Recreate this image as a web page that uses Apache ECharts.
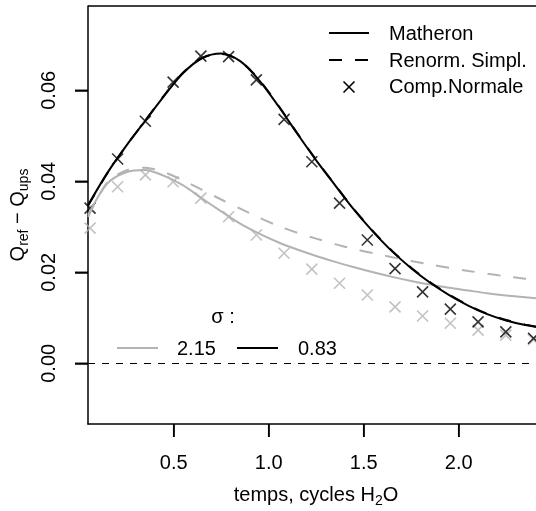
<!DOCTYPE html>
<html>
<head>
<meta charset="utf-8">
<script src="https://cdn.jsdelivr.net/npm/echarts@6/dist/echarts.min.js"></script>
<style>
  html, body { margin: 0; padding: 0; background: #fff; }
  #chart { width: 536px; height: 511px; }
</style>
</head>
<body>
<div id="chart"></div>
<script>
// abscissa for the curves (temps, cycles H2O)
const lineX = [0.05, 0.15, 0.25, 0.35, 0.45, 0.55, 0.65, 0.75, 0.85, 0.95, 1.05, 1.15, 1.25,
               1.35, 1.45, 1.55, 1.65, 1.75, 1.85, 1.95, 2.05, 2.15, 2.25, 2.35, 2.45];

// sigma = 0.83 (black)
const matheron083 = [0.0348, 0.0418, 0.0478, 0.0533, 0.0588, 0.0638, 0.0671, 0.0681, 0.0664, 0.0622,
                     0.0566, 0.0505, 0.0446, 0.0391, 0.0337, 0.0289, 0.0246, 0.0209, 0.0177, 0.0150,
                     0.0127, 0.0108, 0.0094, 0.0084, 0.0077];
const renorm083 = [0.0347, 0.0417, 0.0478, 0.0533, 0.0589, 0.0639, 0.0671, 0.0680, 0.0664, 0.0623,
                   0.0567, 0.0506, 0.0447, 0.0392, 0.0338, 0.0290, 0.0247, 0.0210, 0.0178, 0.0151,
                   0.0128, 0.0109, 0.0095, 0.0085, 0.0078];

// sigma = 2.15 (grey)
const matheron215 = [0.0326, 0.0395, 0.0420, 0.0425, 0.0412, 0.0391, 0.0362, 0.0334, 0.0307, 0.0285,
                     0.0266, 0.0250, 0.0236, 0.0223, 0.0211, 0.0200, 0.0190, 0.0181, 0.0173, 0.0166,
                     0.0160, 0.0154, 0.0149, 0.0145, 0.0141];
const renorm215 = [0.0322, 0.0397, 0.0424, 0.0430, 0.0420, 0.0402, 0.0381, 0.0360, 0.0340, 0.0320,
                   0.0302, 0.0287, 0.0274, 0.0262, 0.0251, 0.0242, 0.0233, 0.0225, 0.0217, 0.0210,
                   0.0203, 0.0197, 0.0191, 0.0186, 0.0182];

// Comp.Normale points
const crossX = [0.060, 0.205, 0.351, 0.497, 0.643, 0.789, 0.935, 1.081, 1.227, 1.373, 1.519,
                1.665, 1.810, 1.956, 2.102, 2.248, 2.394];
const normale083 = [0.0341, 0.0449, 0.0532, 0.0618, 0.0675, 0.0674, 0.0623, 0.0536, 0.0443, 0.0352,
                    0.0271, 0.0208, 0.0157, 0.0119, 0.0091, 0.0069, 0.0055];
const normale215 = [0.0297, 0.0388, 0.0414, 0.0399, 0.0363, 0.0322, 0.0282, 0.0242, 0.0207, 0.0176,
                    0.0150, 0.0124, 0.0104, 0.0088, 0.0073, 0.0062, 0.0052];

const xTicks = [0.5, 1.0, 1.5, 2.0];
const yTicks = [0.00, 0.02, 0.04, 0.06];

const X_MIN = 0.049, X_MAX = 2.449;
const Y_MIN = -0.01334, Y_MAX = 0.07853;

const GREY = '#b3b3b3';
const FONT = 'Liberation Sans, Arial, sans-serif';
const CROSS = 'path://M0,0L10,10M10,0L0,10';
const TICK_LEN = 13;

function pairs(xs, ys) {
    return xs.map(function (x, i) { return [x, ys[i]]; });
}

function curve(data, color, type) {
    return {
        type: 'line', data: data, smooth: 0.3, showSymbol: false, symbol: 'none',
        lineStyle: { color: color, width: 2, type: type }, silent: true
    };
}

function crosses(data, color) {
    return {
        type: 'scatter', data: data, symbol: CROSS, symbolSize: 11,
        itemStyle: { color: 'transparent', borderColor: color, borderWidth: 1.6 }, silent: true
    };
}

let chart = echarts.init(document.getElementById('chart'));

let legendGraphic = [
    // method legend
    { type: 'line', shape: { x1: 329, y1: 33, x2: 369, y2: 33 }, style: { stroke: '#000', lineWidth: 2 } },
    { type: 'line', shape: { x1: 329, y1: 60, x2: 342, y2: 60 }, style: { stroke: '#000', lineWidth: 2 } },
    { type: 'line', shape: { x1: 355, y1: 60, x2: 368, y2: 60 }, style: { stroke: '#000', lineWidth: 2 } },
    { type: 'line', shape: { x1: 343.5, y1: 81.5, x2: 354.5, y2: 92.5 }, style: { stroke: '#000', lineWidth: 1.6 } },
    { type: 'line', shape: { x1: 354.5, y1: 81.5, x2: 343.5, y2: 92.5 }, style: { stroke: '#000', lineWidth: 1.6 } },
    { type: 'text', style: { text: 'Matheron', x: 389, y: 34, font: '20px ' + FONT, fill: '#000', textVerticalAlign: 'middle' } },
    { type: 'text', style: { text: 'Renorm. Simpl.', x: 389, y: 61, font: '20px ' + FONT, fill: '#000', textVerticalAlign: 'middle' } },
    { type: 'text', style: { text: 'Comp.Normale', x: 389, y: 87, font: '20px ' + FONT, fill: '#000', textVerticalAlign: 'middle' } },
    // sigma legend
    { type: 'text', style: { text: '\u03c3 :', x: 223, y: 317, font: '20px ' + FONT, fill: '#000', textAlign: 'center', textVerticalAlign: 'middle' } },
    { type: 'line', shape: { x1: 117, y1: 348, x2: 158, y2: 348 }, style: { stroke: GREY, lineWidth: 2 } },
    { type: 'text', style: { text: '2.15', x: 177, y: 349, font: '20px ' + FONT, fill: '#000', textVerticalAlign: 'middle' } },
    { type: 'line', shape: { x1: 237, y1: 348, x2: 278, y2: 348 }, style: { stroke: '#000', lineWidth: 2 } },
    { type: 'text', style: { text: '0.83', x: 298, y: 349, font: '20px ' + FONT, fill: '#000', textVerticalAlign: 'middle' } }
];

let option = {
    animation: false,
    grid: { left: 88, top: 6, right: -8, bottom: 87, outerBoundsMode: 'none' },
    xAxis: {
        type: 'value', min: X_MIN, max: X_MAX,
        splitLine: { show: false },
        axisLine: { show: true, onZero: false, lineStyle: { color: '#000', width: 1.5 } },
        axisTick: { show: true, customValues: xTicks, length: TICK_LEN, lineStyle: { color: '#000', width: 1.5 } },
        axisLabel: {
            customValues: xTicks, margin: 29, color: '#000', fontSize: 20, fontFamily: FONT,
            formatter: function (v) { return v.toFixed(1); }
        },
        name: 'temps, cycles H{s|2}O', nameLocation: 'middle', nameGap: 58,
        nameTextStyle: {
            color: '#000', fontSize: 20, fontFamily: FONT, lineHeight: 26,
            rich: {
                s: { fontSize: 14, fontFamily: FONT, color: '#000', lineHeight: 16, verticalAlign: 'bottom' }
            }
        }
    },
    yAxis: {
        type: 'value', min: Y_MIN, max: Y_MAX,
        splitLine: { show: false },
        axisLine: { show: true, onZero: false, lineStyle: { color: '#000', width: 1.5 } },
        axisTick: { show: true, customValues: yTicks, length: TICK_LEN, lineStyle: { color: '#000', width: 1.5 } },
        axisLabel: {
            customValues: yTicks, rotate: 90, margin: 29, color: '#000', fontSize: 20, fontFamily: FONT,
            formatter: function (v) { return v.toFixed(2); }
        },
        name: 'Q{s|ref} \u2212 Q{s|ups}', nameLocation: 'middle', nameRotate: 90, nameGap: 50,
        nameTextStyle: {
            color: '#000', fontSize: 20, fontFamily: FONT, lineHeight: 26,
            rich: {
                s: { fontSize: 14, fontFamily: FONT, color: '#000', lineHeight: 16, verticalAlign: 'bottom' }
            }
        }
    },
    series: [
        curve(pairs(lineX, matheron215), GREY, 'solid'),
        curve(pairs(lineX, renorm215), GREY, [13, 13]),
        crosses(pairs(crossX, normale215), GREY),
        Object.assign(curve(pairs(lineX, renorm083), '#000', [13, 13]), {
            markLine: {
                silent: true, symbol: 'none', label: { show: false },
                lineStyle: { color: '#000', width: 1, type: [7, 7] },
                data: [{ yAxis: 0 }]
            }
        }),
        curve(pairs(lineX, matheron083), '#000', 'solid'),
        crosses(pairs(crossX, normale083), '#000')
    ],
    graphic: legendGraphic
};

chart.setOption(option);

// top border of the box and outward tick marks, positioned through the axes
try {
    let left = chart.convertToPixel({ xAxisIndex: 0 }, X_MIN);
    let right = chart.convertToPixel({ xAxisIndex: 0 }, X_MAX);
    let top = chart.convertToPixel({ yAxisIndex: 0 }, Y_MAX);
    let bottom = chart.convertToPixel({ yAxisIndex: 0 }, Y_MIN);
    let extra = [{ type: 'line', z: 100, shape: { x1: left, y1: top, x2: right, y2: top },
                   style: { stroke: '#000', lineWidth: 1.5 } }];
    xTicks.forEach(function (v) {
        let px = chart.convertToPixel({ xAxisIndex: 0 }, v);
        extra.push({ type: 'rect', z: 100, shape: { x: px - 0.75, y: bottom, width: 1.5, height: TICK_LEN },
                     style: { fill: '#000' } });
    });
    yTicks.forEach(function (v) {
        let py = chart.convertToPixel({ yAxisIndex: 0 }, v);
        extra.push({ type: 'rect', z: 100, shape: { x: left - TICK_LEN, y: py - 0.75, width: TICK_LEN, height: 1.5 },
                     style: { fill: '#000' } });
    });
    chart.setOption({ graphic: legendGraphic.concat(extra) });
} catch (e) {
    console.log(e);
}

window.addEventListener('resize', function () {
    chart.resize();
});
</script>
</body>
</html>
